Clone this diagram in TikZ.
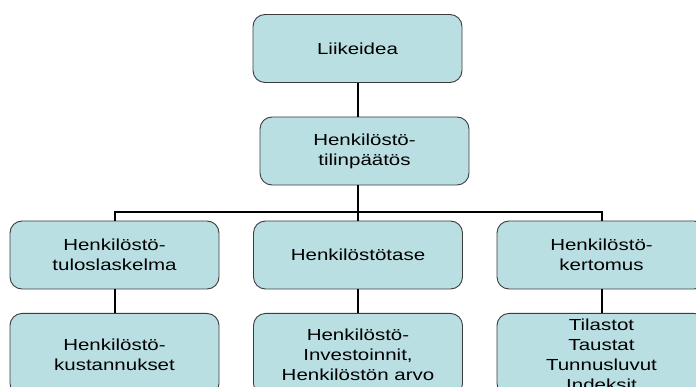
\documentclass[tikz,border=0pt]{standalone}
\usepackage{fontspec}
\setmainfont[FakeStretch=1.28]{Liberation Sans}
\usepackage{tikz}
\usetikzlibrary{positioning, calc}
\definecolor{boxcolor}{RGB}{186, 223, 227}
\definecolor{edgecolor}{RGB}{60, 60, 60}

\begin{document}
\begin{tikzpicture}[
    x=1pt, y=-1pt,
    orgbox/.style={draw=edgecolor, line width=0.9pt, fill=boxcolor, rounded corners=12pt, minimum width=209pt, minimum height=68pt, inner sep=0pt, align=center, font=\fontsize{16}{20}\selectfont},
    link/.style={line width=2pt, black}
]
    \useasboundingbox (0,0) rectangle (696,387);
    \clip (0,0) rectangle (696,387);

    % Top
    \node[orgbox] (idea) at (357.5, 48.5) {Liikeidea};
    \node[orgbox] (tilinp) at (364.5, 151) {Henkilöstö-\\tilinpäätös};

    % Middle row
    \node[orgbox] (tulos) at (114.5, 255) {Henkilöstö-\\tuloslaskelma};
    \node[orgbox] (tase) at (358, 255) {Henkilöstötase};
    \node[orgbox] (kertomus) at (601.5, 255) {Henkilöstö-\\kertomus};

    % Bottom row
    \node[orgbox, minimum height=82pt, anchor=north] (kust) at (114.5, 313) {Henkilöstö-\\kustannukset};
    \node[orgbox, minimum height=82pt, anchor=north] (invest) at (358, 313) {Henkilöstö-\\Investoinnit,\\Henkilöstön arvo};
    \node[orgbox, minimum height=82pt, anchor=north] (tilastot) at (601.5, 313) {Tilastot\\Taustat\\Tunnusluvut\\Indeksit};

    % Connections
    \coordinate (split) at (358, 212);
    \draw[link] (idea.south) -- (idea.south |- tilinp.north);
    \draw[link] (tilinp.south -| split) -- (split);
    \draw[link] (tulos.north) |- (split) -| (kertomus.north);
    \draw[link] (split) -- (tase.north);
    \draw[link] (tulos.south) -- (kust.north);
    \draw[link] (tase.south) -- (invest.north);
    \draw[link] (kertomus.south) -- (tilastot.north);
\end{tikzpicture}
\end{document}
